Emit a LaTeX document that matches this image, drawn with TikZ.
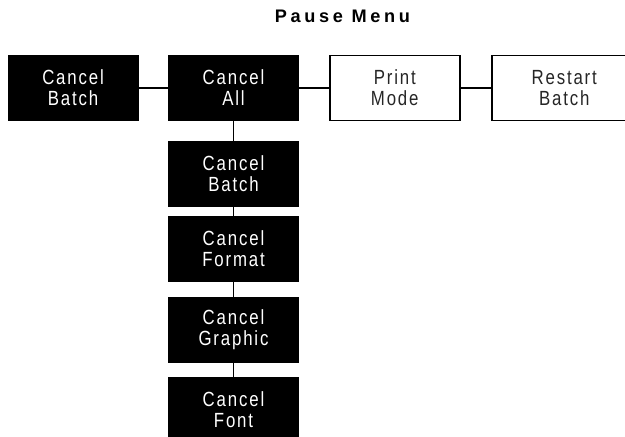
\documentclass[tikz,border=0pt]{standalone}
\usepackage{fontspec}
\setmainfont{Liberation Sans}
\newfontfamily\boxfont{Liberation Sans}[FakeStretch=0.82,LetterSpace=9]
\newfontfamily\titlefont{Liberation Sans}[LetterSpace=20]
\usetikzlibrary{positioning}

\begin{document}
\begin{tikzpicture}[
  font=\boxfont\fontsize{17.5}{18}\selectfont,
  every node/.style={align=center},
  blk/.style={draw=black, fill=black, text=white, minimum width=3.9cm, minimum height=1.95cm, inner sep=0pt},
  wht/.style={draw=black, line width=1.7pt, fill=white, text=black!85, minimum width=3.9cm, minimum height=1.95cm, inner sep=0pt},
  lnk/.style={line width=1.6pt},
]
\useasboundingbox (0,0) rectangle (18.75,-13.11);
\node[font=\titlefont\bfseries\fontsize{15.5}{18}\selectfont] (title) at (10.275,-0.5) {Pause Menu};

% top row
\node[blk] (all) at (7.005,-2.64) {Cancel\\All};
\node[blk, left=0.9cm of all] (batch) {Cancel\\Batch};
\node[wht, right=0.9cm of all] (print) {Print\\Mode};
\node[wht, right=0.9cm of print, minimum width=4.35cm] (restart) {Restart\\Batch};

% column under Cancel All
\node[blk, below=0.6cm of all] (cbatch) {Cancel\\Batch};
\node[blk, below=0.3cm of cbatch] (format) {Cancel\\Format};
\node[blk, below=0.45cm of format] (graphic) {Cancel\\Graphic};
\node[blk, below=0.45cm of graphic] (font) {Cancel\\Font};

\draw[lnk] (batch) -- (all);
\draw[lnk] (all) -- (print);
\draw[lnk] (print) -- (restart);
\draw[lnk] (all) -- (cbatch);
\draw[lnk] (cbatch) -- (format);
\draw[lnk] (format) -- (graphic);
\draw[lnk] (graphic) -- (font);
\end{tikzpicture}
\end{document}
